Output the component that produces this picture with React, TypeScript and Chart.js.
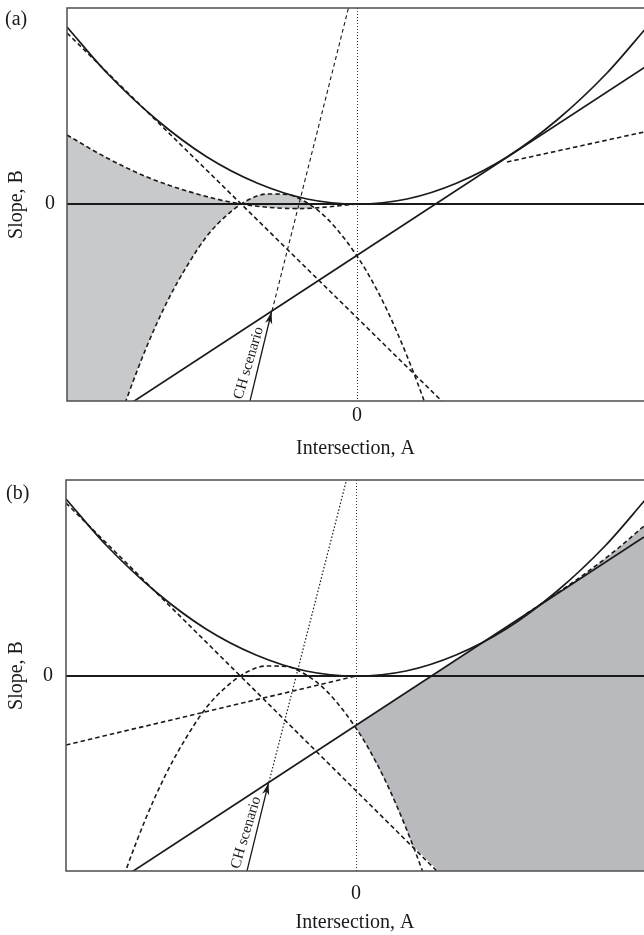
import { useEffect, useRef } from 'react';
import { Chart, registerables } from 'chart.js';

Chart.register(...registerables);

const SERIF = '"Liberation Serif", "Times New Roman", serif';
const INK = '#1a1a1a';
const FRAME = '#4d4d4d';

// Axis extents (intersection A horizontally, slope B vertically)
const A_MIN = -2.9;
const A_MAX_TOP = 2.87;
const A_MAX_BOT = 2.88;
const B_MIN_TOP = -1.97;
const B_MAX_TOP = 1.96;
const B_MIN_BOT = -1.95;
const B_MAX_BOT = 1.96;
const A_TICKS = [0];
const B_TICKS = [0];

// Upper solid envelope (both panels)
const envelopeA = [-2.9, -2.5, -2.0, -1.5, -1.0, -0.5, 0, 0.5, 1.0, 1.5, 2.0, 2.5, 2.9];
const envelopeB = [1.77, 1.31, 0.84, 0.47, 0.21, 0.05, 0, 0.05, 0.21, 0.47, 0.84, 1.31, 1.77];

// Solid straight line tangent on the right
const tangentA = [-2.9, 2.88];
const tangentB_top = [-2.41, 1.37];
const tangentB_bot = [-2.39, 1.39];

// Horizontal B = 0 line
const zeroA = [-2.9, 2.9];
const zeroB = [0, 0];

// Dashed straight line tangent on the left
const leftTangentA = [-2.9, 1.0];
const leftTangentB_top = [1.71, -2.12];
const leftTangentB_bot = [1.73, -2.14];

// Dashed shallow curve of panel (a)
const shallowCurveA = [-2.9, -2.5, -2.1, -1.7, -1.16, -0.58, 0];
const shallowCurveB = [0.69, 0.46, 0.27, 0.13, 0, -0.046, 0];
// where the shaded lens of panel (a) closes
const LENS_END = { x: -0.43, y: -0.043 };

// Dashed inverted parabola (both panels)
const capA = [-2.9, -2.7, -2.5, -2.3, -2.1, -1.9, -1.7, -1.5, -1.3, -1.1, -0.9, -0.7, -0.5, -0.3, -0.1, 0.1, 0.3, 0.5, 0.7, 0.9];
const capB = [-3.93, -3.19, -2.53, -1.94, -1.42, -0.98, -0.62, -0.32, -0.11, 0.035, 0.1, 0.095, 0.012, -0.145, -0.38, -0.68, -1.06, -1.52, -2.05, -2.66];

// Steep line starting at the CH scenario point
const steepA_top = [-0.85, -0.05];
const steepB_top = [-1.07, 2.1];
const steepA_bot = [-0.87, -0.085];
const steepB_bot = [-1.06, 2.0];

// Short dashed segment on the right of panel (a)
const rightSegA = [1.5, 2.87];
const rightSegB = [0.42, 0.72];

// Dashed line into the origin, panel (b)
const originLineA = [-2.9, 0];
const originLineB = [-0.69, 0];

// Dashed curve above the tangent line, panel (b)
const upperRightA = [1.7, 2.0, 2.3, 2.6, 2.88];
const upperRightB = [0.62, 0.82, 1.03, 1.26, 1.5];

// Shaded region of panel (b)
const shadeTopA_bot = [0, 1.7, 2.0, 2.3, 2.6, 2.88];
const shadeTopB_bot = [-0.49, 0.62, 0.82, 1.03, 1.26, 1.5];
const shadeLowA_bot = [0, 0.1, 0.3, 0.5, 0.57, 1.0, 2.88];
const shadeLowB_bot = [-0.52, -0.68, -1.06, -1.52, -1.7, -2.12, -3.97];

// CH scenario arrows
const arrowA_top = [-1.07, -0.855];
const arrowB_top = [-1.97, -1.08];
const arrowA_bot = [-1.09, -0.875];
const arrowB_bot = [-1.95, -1.07];

const pts = (a: number[], b: number[]) => a.map((x, i) => ({ x, y: b[i] }));

const line = (data: any[], width = 1.7, dash: number[] = []) => ({
  data,
  borderColor: INK,
  borderWidth: width,
  borderDash: dash,
  pointRadius: 0,
  pointHoverRadius: 0,
  fill: false,
  cubicInterpolationMode: 'monotone',
});

const DASH = [4.5, 3];

const framePlugin = {
  id: 'frame',
  afterDatasetsDraw(chart: any) {
    const { left, top, right, bottom } = chart.chartArea;
    const ctx = chart.ctx;
    ctx.save();
    ctx.strokeStyle = FRAME;
    ctx.lineWidth = 1.5;
    ctx.beginPath();
    ctx.moveTo(right + 2, top);
    ctx.lineTo(left, top);
    ctx.lineTo(left, bottom);
    ctx.lineTo(right + 2, bottom);
    ctx.stroke();
    ctx.restore();
  },
};

const arrowNotePlugin = {
  id: 'arrowNote',
  afterDatasetsDraw(chart: any, _args: any, opts: any) {
    const meta = chart.getDatasetMeta(opts.datasetIndex);
    const [p0, p1] = meta.data;
    if (!p0 || !p1) return;
    const ctx = chart.ctx;
    const ang = Math.atan2(p1.y - p0.y, p1.x - p0.x);
    ctx.save();
    ctx.fillStyle = INK;
    ctx.translate(p1.x, p1.y);
    ctx.rotate(ang);
    ctx.beginPath();
    ctx.moveTo(0, 0);
    ctx.lineTo(-12, -3.6);
    ctx.lineTo(-8.5, 0);
    ctx.lineTo(-12, 3.6);
    ctx.closePath();
    ctx.fill();
    ctx.restore();

    const t = opts.along;
    const mx = p0.x + (p1.x - p0.x) * t + Math.sin(ang) * opts.offset;
    const my = p0.y + (p1.y - p0.y) * t - Math.cos(ang) * opts.offset;
    ctx.save();
    ctx.translate(mx, my);
    ctx.rotate(ang + (opts.tilt || 0));
    ctx.fillStyle = INK;
    ctx.font = `15px ${SERIF}`;
    ctx.textAlign = 'center';
    ctx.textBaseline = 'middle';
    ctx.fillText(opts.text, 0, 0);
    ctx.restore();
  },
};

const panelTagPlugin = {
  id: 'panelTag',
  afterDraw(chart: any, _args: any, opts: any) {
    const ctx = chart.ctx;
    ctx.save();
    ctx.fillStyle = INK;
    ctx.font = `20px ${SERIF}`;
    ctx.textAlign = 'left';
    ctx.textBaseline = 'middle';
    ctx.fillText(opts.text, opts.x, opts.y);
    ctx.restore();
  },
};

function scales(aMax: number, bMin: number, bMax: number, yWidth: number, xHeight: number, xTickPad: number, xTitlePad: number, yTickPad: number) {
  const font = { family: SERIF, size: 20 };
  return {
    x: {
      type: 'linear',
      min: A_MIN,
      max: aMax,
      afterBuildTicks: (s: any) => {
        s.ticks = A_TICKS.map((v) => ({ value: v }));
      },
      afterFit: (s: any) => {
        s.height = xHeight;
        s.paddingLeft = 0;
        s.paddingRight = 0;
      },
      grid: { display: true, drawTicks: false, color: '#333333', lineWidth: 1 },
      border: { display: false, dash: [1, 2] },
      ticks: { color: INK, font, padding: xTickPad, maxRotation: 0 },
      title: {
        display: true,
        text: 'Intersection, A',
        color: INK,
        font,
        padding: { top: 0, bottom: xTitlePad },
      },
    },
    y: {
      type: 'linear',
      min: bMin,
      max: bMax,
      afterBuildTicks: (s: any) => {
        s.ticks = B_TICKS.map((v) => ({ value: v }));
      },
      afterFit: (s: any) => {
        s.width = yWidth;
        s.paddingTop = 0;
        s.paddingBottom = 0;
      },
      grid: { display: false, drawTicks: false },
      border: { display: false },
      ticks: { color: INK, font, padding: yTickPad },
      title: {
        display: true,
        text: 'Slope, B',
        color: INK,
        font,
        padding: { top: 5, bottom: 0 },
      },
    },
  };
}

function baseOptions(padTop: number) {
  return {
    responsive: false,
    animation: false,
    events: [],
    layout: { padding: { top: padTop, left: 0, right: 0, bottom: 0 } },
    elements: { line: { capBezierPoints: false } },
  };
}

function configTop(): any {
  const shadeTop = [...pts(shallowCurveA, shallowCurveB).filter((p) => p.x < LENS_END.x), LENS_END];
  return {
    type: 'line',
    data: {
      datasets: [
        line(pts(envelopeA, envelopeB)),
        line(pts(tangentA, tangentB_top)),
        line(pts(zeroA, zeroB), 2.2),
        line(pts(leftTangentA, leftTangentB_top), 1.6, DASH),
        line(pts(shallowCurveA, shallowCurveB), 1.6, DASH),
        line(pts(capA, capB), 1.6, DASH),
        line(pts(steepA_top, steepB_top), 1.1, [4, 3]),
        line(pts(rightSegA, rightSegB), 1.6, DASH),
        line(pts(arrowA_top, arrowB_top), 1.3),
        {
          data: shadeTop,
          borderWidth: 0,
          borderColor: 'rgba(0,0,0,0)',
          backgroundColor: '#c8c9cb',
          pointRadius: 0,
          cubicInterpolationMode: 'monotone',
          fill: { target: 5 },
        },
      ],
    },
    options: {
      ...baseOptions(8),
      scales: scales(A_MAX_TOP, B_MIN_TOP, B_MAX_TOP, 67, 64, 3, 4, 12),
      plugins: {
        legend: { display: false },
        tooltip: { enabled: false },
        filler: { drawTime: 'beforeDatasetsDraw' },
        arrowNote: { datasetIndex: 8, text: 'CH scenario', along: 0.4, offset: 10, tilt: 0.05 },
        panelTag: { text: '(a)', x: 5, y: 20 },
      },
    },
    plugins: [framePlugin, arrowNotePlugin, panelTagPlugin],
  };
}

function configBottom(): any {
  return {
    type: 'line',
    data: {
      datasets: [
        line(pts(envelopeA, envelopeB)),
        line(pts(tangentA, tangentB_bot)),
        line(pts(zeroA, zeroB), 2.2),
        line(pts(leftTangentA, leftTangentB_bot), 1.6, DASH),
        line(pts(originLineA, originLineB), 1.6, DASH),
        line(pts(capA, capB), 1.6, DASH),
        line(pts(steepA_bot, steepB_bot), 1.2, [1.5, 2]),
        line(pts(upperRightA, upperRightB), 1.6, DASH),
        line(pts(arrowA_bot, arrowB_bot), 1.3),
        {
          data: pts(shadeTopA_bot, shadeTopB_bot),
          borderWidth: 0,
          borderColor: 'rgba(0,0,0,0)',
          backgroundColor: '#b9babd',
          pointRadius: 0,
          cubicInterpolationMode: 'monotone',
          fill: { target: 10 },
        },
        {
          data: pts(shadeLowA_bot, shadeLowB_bot),
          borderWidth: 0,
          borderColor: 'rgba(0,0,0,0)',
          pointRadius: 0,
          tension: 0,
          fill: false,
        },
      ],
    },
    options: {
      ...baseOptions(15),
      scales: scales(A_MAX_BOT, B_MIN_BOT, B_MAX_BOT, 66, 64, 11, 0, 13),
      plugins: {
        legend: { display: false },
        tooltip: { enabled: false },
        filler: { drawTime: 'beforeDatasetsDraw' },
        arrowNote: { datasetIndex: 8, text: 'CH scenario', along: 0.41, offset: 10, tilt: 0.05 },
        panelTag: { text: '(b)', x: 6, y: 29 },
      },
    },
    plugins: [framePlugin, arrowNotePlugin, panelTagPlugin],
  };
}

function Panel({ top, height, make }: { top: number; height: number; make: () => any }) {
  const ref = useRef<HTMLCanvasElement>(null);
  useEffect(() => {
    if (!ref.current) return;
    const chart = new Chart(ref.current, make());
    return () => chart.destroy();
  }, [make]);
  return (
    <div style={{ position: 'absolute', left: 0, top, width: 644, height }}>
      <canvas ref={ref} width={644} height={height} style={{ display: 'block' }} />
    </div>
  );
}

export default function App() {
  return (
    <div style={{ position: 'absolute', left: 0, top: 0, width: 644, height: 935, background: '#fff' }}>
      <Panel top={0} height={465} make={configTop} />
      <Panel top={465} height={470} make={configBottom} />
    </div>
  );
}
